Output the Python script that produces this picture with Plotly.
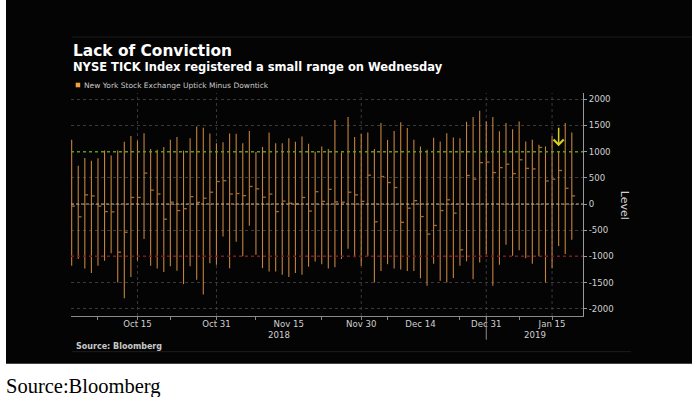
import plotly.graph_objects as go
import pandas as pd

# ---------------- data ----------------
holidays = ["2018-12-05", "2018-12-25", "2019-01-01"]
dates = [d for d in pd.bdate_range("2018-10-01", "2019-01-18").strftime("%Y-%m-%d") if d not in holidays]

tick_high = [1225, 730, 880, 825, 875, 1020, 925, 1020, 1190, 1300,
             1210, 1350, 1050, 1035, 1090, 1225, 1280, 1020, 1255, 1480,
             1455, 1345, 1160, 1180, 1345, 1340, 1160, 1395, 995, 1090,
             1365, 1160, 1160, 1255, 1190, 1290, 1150, 1000, 1100, 1050,
             1605, 985, 1660, 1280, 1335, 1365, 1050, 1545, 1225, 1395,
             1560, 1450, 1225, 1100, 1035, 1265, 1195, 1350, 1270, 1255,
             1570, 1660, 1780, 1575, 1660, 1390, 1545, 1430, 1575, 1195,
             1225, 1130, 1100, 1300, 995, 1545, 1365]
tick_low = [-1180, -1050, -1230, -1320, -1180, -1085, -940, -1500, -1800, -1395,
            -1080, -670, -1180, -1230, -1300, -1190, -1275, -1530, -1190, -1445,
            -1730, -1130, -1160, -620, -1225, -720, -1000, -415, -970, -1225,
            -1290, -1290, -1350, -1395, -1320, -1350, -1200, -1100, -1150, -1230,
            -1210, -1050, -855, -1015, -1180, -1000, -1500, -1280, -1150, -1230,
            -1250, -1280, -1280, -1420, -1560, -1140, -1465, -1500, -1415, -1180,
            -1095, -1435, -1115, -960, -1560, -1160, -780, -990, -885, -1035,
            -1140, -1000, -1500, -1225, -800, -955, -685]
tick_close = [-40, -245, 175, 155, -40, -145, -150, -920, -540, 125,
              125, 590, 265, 190, -290, 35, -125, -90, 140, 30,
              110, 225, 430, 445, 190, 200, 160, 335, 290, 130,
              190, -145, 55, 15, 0, 125, -135, 235, 50, 280,
              40, 35, 225, 175, 50, 550, -340, 525, 410, 315,
              -350, -80, 65, -240, -575, -410, -125, 80, -175, -875,
              545, 475, 790, 800, 600, 695, 760, 580, 845, 680,
              670, 1080, 440, 475, 640, 300, 155]

label_dates = ["2018-10-15", "2018-10-31", "2018-11-15", "2018-11-30", "2018-12-14", "2018-12-31", "2019-01-15"]
label_text = ["Oct 15", "Oct 31", "Nov 15", "Nov 30", "Dec 14", "Dec 31", "Jan 15"]
grid_dates = ["2018-10-15", "2018-10-31", "2018-11-30", "2018-12-31", "2019-01-15"]
minor_dates = ["2018-10-05", "2018-10-15", "2018-10-22", "2018-10-31", "2018-11-08", "2018-11-22",
               "2018-11-30", "2018-12-07", "2018-12-24", "2018-12-31", "2019-01-08", "2019-01-15"]
year_split = "2018-12-31"
arrow_date = "2019-01-16"
y_ticks = [2000, 1500, 1000, 500, 0, -500, -1000, -1500, -2000]
y_tick_text = ["2000", "1500", "1000", "500", "0", "-500", "-1000", "-1500", "-2000"]
upper_level, lower_level = 1000, -1000

# ---------------- geometry helpers ----------------
W, H = 696, 397
PL, PR, PT, PB = 71, 583, 93, 316.3
XR = [-0.1, 77.7]
YR = [-2139, 2120]
idx = {d: i for i, d in enumerate(dates)}


def px(x):
    return (x - PL) / (PR - PL)


def py(y):
    return (PB - y) / (PB - PT)


ORANGE = "#c4823e"

# ---------------- traces ----------------
bx, by = [], []
for i, (lo, hi) in enumerate(zip(tick_low, tick_high)):
    bx += [i, i, None]
    by += [lo, hi, None]
cx, cy = [], []
for i, c in enumerate(tick_close):
    cx += [i, i + 0.5, None]
    cy += [c, c, None]

fig = go.Figure()
fig.add_trace(go.Scatter(x=bx, y=by, mode="lines", line=dict(color=ORANGE, width=1.1),
                         hoverinfo="skip", showlegend=False))
fig.add_trace(go.Scatter(x=cx, y=cy, mode="lines", line=dict(color="#a46c34", width=1.3),
                         hoverinfo="skip", showlegend=False))

shapes = []
# black panel
shapes.append(dict(type="rect", xref="paper", yref="paper", x0=px(6), x1=px(692), y0=py(364), y1=py(0),
                   fillcolor="#040404", line=dict(width=0), layer="below"))
# faint separators
shapes.append(dict(type="line", xref="paper", yref="paper", x0=px(72), x1=px(692), y0=py(37), y1=py(37),
                   line=dict(color="#1c1c1c", width=1), layer="below"))
shapes.append(dict(type="line", xref="paper", yref="paper", x0=px(72), x1=px(631), y0=py(352), y1=py(352),
                   line=dict(color="#1c1c1c", width=1), layer="below"))
# vertical gridlines
for d in grid_dates:
    shapes.append(dict(type="line", xref="x", yref="paper", x0=idx[d], x1=idx[d], y0=0, y1=1,
                       line=dict(color="#3a3a3a", width=1, dash="dot"), layer="below"))
# year separator tick
shapes.append(dict(type="line", xref="x", yref="paper", x0=idx[year_split], x1=idx[year_split],
                   y0=0, y1=py(340), line=dict(color="#8a8a8a", width=1)))
# reference levels
shapes.append(dict(type="line", xref="paper", yref="y", x0=0, x1=1, y0=upper_level, y1=upper_level,
                   line=dict(color="#64961c", width=1.5, dash="dot")))
shapes.append(dict(type="line", xref="paper", yref="y", x0=0, x1=1, y0=lower_level, y1=lower_level,
                   line=dict(color="#7c1822", width=1.5, dash="dot")))
shapes.append(dict(type="line", xref="paper", yref="y", x0=0, x1=1, y0=0, y1=0,
                   line=dict(color="#c8ae88", width=1, dash="3px,2px")))
# legend swatch
shapes.append(dict(type="rect", xref="paper", yref="paper", x0=px(75.7), x1=px(80.2), y0=py(87.3), y1=py(82.7),
                   fillcolor="#f0a040", line=dict(width=0)))

F = "DejaVu Sans"
ann = []
ann.append(dict(text="<b>Lack of Conviction</b>", xref="paper", yref="paper", x=px(71), y=py(50.5),
                xanchor="left", yanchor="middle", showarrow=False,
                font=dict(family=F, size=15.4, color="#ffffff")))
ann.append(dict(text="<b>NYSE TICK Index registered a small range on Wednesday</b>", xref="paper", yref="paper",
                x=px(71), y=py(66.5), xanchor="left", yanchor="middle", showarrow=False,
                font=dict(family=F, size=11.5, color="#ffffff")))
ann.append(dict(text="New York Stock Exchange Uptick Minus Downtick", xref="paper", yref="paper",
                x=px(82), y=py(85.3), xanchor="left", yanchor="middle", showarrow=False,
                font=dict(family=F, size=7.5, color="#c8c8c8")))
ann.append(dict(text="<b>Source: Bloomberg</b>", xref="paper", yref="paper", x=px(73.5), y=py(347),
                xanchor="left", yanchor="middle", showarrow=False,
                font=dict(family=F, size=8, color="#c8c8c8")))
ann.append(dict(text="Source:Bloomberg", xref="paper", yref="paper", x=px(3.5), y=py(386.5),
                xanchor="left", yanchor="middle", showarrow=False,
                font=dict(family="Liberation Serif", size=20.5, color="#000000")))
ann.append(dict(text="Level", xref="paper", yref="paper", x=px(624), y=py(205), textangle=90,
                xanchor="center", yanchor="middle", showarrow=False,
                font=dict(family=F, size=11, color="#d0d0d0")))
split = idx[year_split]
for yr, xc in (("2018", (XR[0] + split) / 2), ("2019", (split + XR[1]) / 2)):
    ann.append(dict(text=yr, xref="x", yref="paper", x=xc, y=py(335), xanchor="center", yanchor="middle",
                    showarrow=False, font=dict(family=F, size=8.6, color="#d0d0d0")))
ai = idx[arrow_date]
ann.append(dict(x=ai, y=tick_high[ai] + 110, xref="x", yref="y", ax=0, ay=-20, showarrow=True,
                arrowhead=4, arrowsize=1.3, arrowwidth=1.5, arrowcolor="#d6d21e", text=""))

fig.update_layout(
    width=W, height=H,
    margin=dict(l=PL, r=W - PR, t=PT, b=H - PB, pad=0),
    paper_bgcolor="#ffffff", plot_bgcolor="rgba(0,0,0,0)",
    font=dict(family=F, size=8.6, color="#d0d0d0"),
    showlegend=False, shapes=shapes, annotations=ann,
    xaxis=dict(range=XR, showgrid=False, zeroline=False, showline=True, linecolor="#8a8a8a", linewidth=1,
               tickvals=[idx[d] for d in label_dates], ticktext=label_text, ticks="",
               tickfont=dict(family=F, size=8.6, color="#d0d0d0"),
               minor=dict(tickvals=[idx[d] for d in minor_dates], ticks="outside", ticklen=3,
                          tickcolor="#8a8a8a", showgrid=False)),
    yaxis=dict(range=YR, side="right", tickvals=y_ticks, ticktext=y_tick_text, ticks="outside", ticklen=3,
               tickcolor="#9a9a9a", showline=True, linecolor="#9a9a9a", linewidth=1, zeroline=False,
               showgrid=True, gridcolor="#3a3a3a", griddash="dot", gridwidth=1,
               tickfont=dict(family=F, size=8.6, color="#d0d0d0")),
)

fig.write_html("out.html", config={"displayModeBar": False, "staticPlot": True},
               post_script="document.body.style.margin='0px';document.body.style.overflow='hidden';")
